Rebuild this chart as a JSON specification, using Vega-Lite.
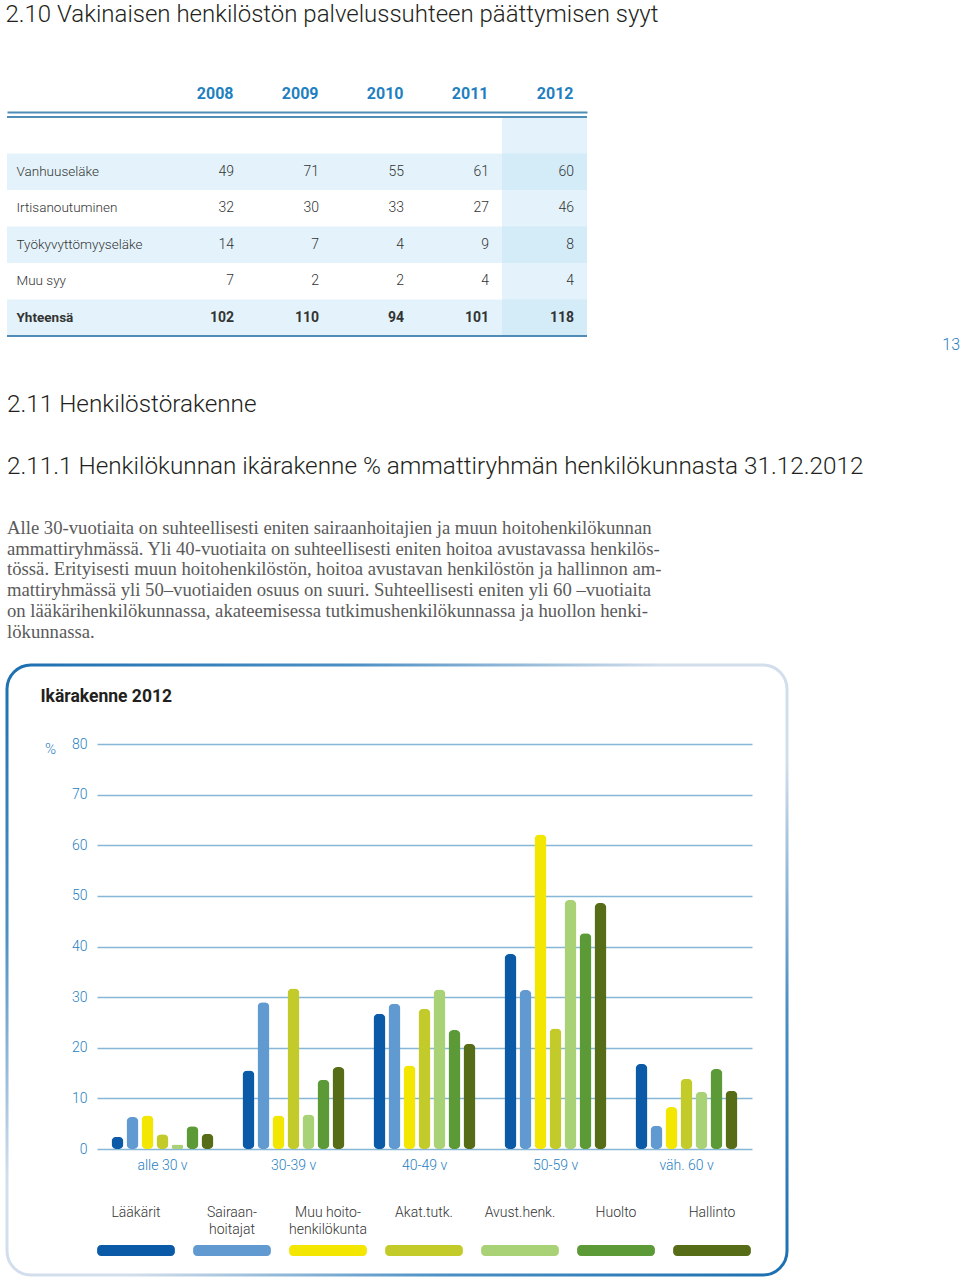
{
  "$schema": "https://vega.github.io/schema/vega-lite/v6.json",
  "background": "white",
  "padding": {"left": 5, "right": 0, "top": 3, "bottom": 0},
  "title": {
    "text": "2.10 Vakinaisen henkilöstön palvelussuhteen päättymisen syyt",
    "anchor": "start",
    "font": "Roboto",
    "fontSize": 24,
    "fontWeight": 300,
    "color": "#231f20",
    "offset": 58
  },
  "datasets": {
    "table": [
      {"reason": "Vanhuuseläke", "year": "2008", "value": 49},
      {"reason": "Vanhuuseläke", "year": "2009", "value": 71},
      {"reason": "Vanhuuseläke", "year": "2010", "value": 55},
      {"reason": "Vanhuuseläke", "year": "2011", "value": 61},
      {"reason": "Vanhuuseläke", "year": "2012", "value": 60},
      {"reason": "Irtisanoutuminen", "year": "2008", "value": 32},
      {"reason": "Irtisanoutuminen", "year": "2009", "value": 30},
      {"reason": "Irtisanoutuminen", "year": "2010", "value": 33},
      {"reason": "Irtisanoutuminen", "year": "2011", "value": 27},
      {"reason": "Irtisanoutuminen", "year": "2012", "value": 46},
      {"reason": "Työkyvyttömyyseläke", "year": "2008", "value": 14},
      {"reason": "Työkyvyttömyyseläke", "year": "2009", "value": 7},
      {"reason": "Työkyvyttömyyseläke", "year": "2010", "value": 4},
      {"reason": "Työkyvyttömyyseläke", "year": "2011", "value": 9},
      {"reason": "Työkyvyttömyyseläke", "year": "2012", "value": 8},
      {"reason": "Muu syy", "year": "2008", "value": 7},
      {"reason": "Muu syy", "year": "2009", "value": 2},
      {"reason": "Muu syy", "year": "2010", "value": 2},
      {"reason": "Muu syy", "year": "2011", "value": 4},
      {"reason": "Muu syy", "year": "2012", "value": 4},
      {"reason": "Yhteensä", "year": "2008", "value": 102},
      {"reason": "Yhteensä", "year": "2009", "value": 110},
      {"reason": "Yhteensä", "year": "2010", "value": 94},
      {"reason": "Yhteensä", "year": "2011", "value": 101},
      {"reason": "Yhteensä", "year": "2012", "value": 118}
    ],
    "age": [
      {"age": "alle 30 v", "group": "Lääkärit", "value": 2.4},
      {"age": "alle 30 v", "group": "Sairaanhoitajat", "value": 6.3},
      {"age": "alle 30 v", "group": "Muu hoitohenkilökunta", "value": 6.6},
      {"age": "alle 30 v", "group": "Akat.tutk.", "value": 2.9},
      {"age": "alle 30 v", "group": "Avust.henk.", "value": 0.9},
      {"age": "alle 30 v", "group": "Huolto", "value": 4.5},
      {"age": "alle 30 v", "group": "Hallinto", "value": 3.0},
      {"age": "30-39 v", "group": "Lääkärit", "value": 15.5},
      {"age": "30-39 v", "group": "Sairaanhoitajat", "value": 29.0},
      {"age": "30-39 v", "group": "Muu hoitohenkilökunta", "value": 6.6},
      {"age": "30-39 v", "group": "Akat.tutk.", "value": 31.7},
      {"age": "30-39 v", "group": "Avust.henk.", "value": 6.8},
      {"age": "30-39 v", "group": "Huolto", "value": 13.7},
      {"age": "30-39 v", "group": "Hallinto", "value": 16.2},
      {"age": "40-49 v", "group": "Lääkärit", "value": 26.7},
      {"age": "40-49 v", "group": "Sairaanhoitajat", "value": 28.7},
      {"age": "40-49 v", "group": "Muu hoitohenkilökunta", "value": 16.5},
      {"age": "40-49 v", "group": "Akat.tutk.", "value": 27.7},
      {"age": "40-49 v", "group": "Avust.henk.", "value": 31.5},
      {"age": "40-49 v", "group": "Huolto", "value": 23.5},
      {"age": "40-49 v", "group": "Hallinto", "value": 20.8},
      {"age": "50-59 v", "group": "Lääkärit", "value": 38.5},
      {"age": "50-59 v", "group": "Sairaanhoitajat", "value": 31.4},
      {"age": "50-59 v", "group": "Muu hoitohenkilökunta", "value": 62.1},
      {"age": "50-59 v", "group": "Akat.tutk.", "value": 23.8},
      {"age": "50-59 v", "group": "Avust.henk.", "value": 49.2},
      {"age": "50-59 v", "group": "Huolto", "value": 42.6},
      {"age": "50-59 v", "group": "Hallinto", "value": 48.6},
      {"age": "väh. 60 v", "group": "Lääkärit", "value": 16.8},
      {"age": "väh. 60 v", "group": "Sairaanhoitajat", "value": 4.6},
      {"age": "väh. 60 v", "group": "Muu hoitohenkilökunta", "value": 8.3},
      {"age": "väh. 60 v", "group": "Akat.tutk.", "value": 13.9},
      {"age": "väh. 60 v", "group": "Avust.henk.", "value": 11.3},
      {"age": "väh. 60 v", "group": "Huolto", "value": 15.8},
      {"age": "väh. 60 v", "group": "Hallinto", "value": 11.5}
    ]
  },
  "spacing": 39,
  "vconcat": [
    {
      "width": 580,
      "height": 219,
      "title": {
        "text": "13",
        "orient": "bottom",
        "anchor": "end",
        "dx": 372,
        "offset": 0,
        "fontSize": 16,
        "fontWeight": 300,
        "color": "#2a7fc0",
        "font": "Roboto"
      },
      "data": {"name": "table"},
      "layer": [
        {
          "transform": [{"filter": "datum.year == '2008'"}],
          "mark": {"type": "rect"},
          "encoding": {
            "y": {"field": "reason", "type": "nominal", "scale": {"domain": ["_gap", "Vanhuuseläke", "Irtisanoutuminen", "Työkyvyttömyyseläke", "Muu syy", "Yhteensä"], "paddingInner": 0, "paddingOuter": 0}},
            "fill": {"field": "reason", "type": "nominal", "scale": {"domain": ["Vanhuuseläke", "Irtisanoutuminen", "Työkyvyttömyyseläke", "Muu syy", "Yhteensä"], "range": ["#e4f3fb", "#ffffff", "#e4f3fb", "#ffffff", "#e4f3fb"]}, "legend": null}
          }
        },
        {
          "transform": [{"filter": "datum.year == '2012' && datum.reason == 'Yhteensä'"}],
          "mark": {"type": "rect", "fill": "#bae0f5", "opacity": 0.39},
          "encoding": {
            "x": {"field": "year", "type": "ordinal", "scale": {"domain": ["2008", "2009", "2010", "2011", "2012"], "paddingInner": 0, "paddingOuter": 0.9118, "align": 1}}
          }
        },
        {
          "transform": [{"filter": "datum.year == '2008' && datum.reason == 'Yhteensä'"}],
          "mark": {"type": "rule", "color": "#4f8db6", "strokeWidth": 2},
          "encoding": {
            "y": {"datum": "_gap", "type": "nominal", "bandPosition": 0}
          }
        },
        {
          "transform": [{"filter": "datum.year == '2008' && datum.reason == 'Yhteensä'"}],
          "mark": {"type": "rule", "color": "#4f8db6", "strokeWidth": 2},
          "encoding": {
            "y": {"datum": "Yhteensä", "type": "nominal", "bandPosition": 1}
          }
        },
        {
          "transform": [{"filter": "datum.reason != 'Yhteensä'"}],
          "mark": {"type": "text", "align": "right", "dx": -13, "fontSize": 14, "color": "#333333", "font": "Roboto", "fontWeight": 300},
          "encoding": {
            "x": {
              "field": "year", "type": "ordinal", "bandPosition": 1,
              "scale": {"domain": ["2008", "2009", "2010", "2011", "2012"], "paddingInner": 0, "paddingOuter": 0.9118, "align": 1},
              "axis": {
                "orient": "top", "offset": 5, "title": null, "domain": true, "domainColor": "#4f8db6", "domainWidth": 2,
                "ticks": false, "labelAlign": "right", "labelOffset": 29, "labelPadding": 19,
                "labelFontSize": 16, "labelFontWeight": "bold", "labelColor": "#1f7fc0", "labelAngle": 0,
                "labelFont": "Roboto", "zindex": 1
              }
            },
            "y": {
              "field": "reason", "type": "nominal",
              "scale": {"domain": ["_gap", "Vanhuuseläke", "Irtisanoutuminen", "Työkyvyttömyyseläke", "Muu syy", "Yhteensä"], "paddingInner": 0, "paddingOuter": 0},
              "axis": {
                "orient": "left", "title": null, "domain": false, "ticks": false, "grid": false,
                "labelAlign": "left", "labelPadding": -9, "labelFontSize": 13.5, "labelColor": "#333333", "labelLimit": 300,
                "labelFont": "Roboto", "zindex": 1,
                "labelExpr": "datum.value == '_gap' ? '' : datum.label",
                "labelFontWeight": {"condition": {"test": "datum.value == 'Yhteensä'", "value": "bold"}, "value": 300}
              }
            },
            "text": {"field": "value", "type": "quantitative"}
          }
        },
        {
          "transform": [{"filter": "datum.reason == 'Yhteensä'"}],
          "mark": {"type": "text", "align": "right", "dx": -13, "fontSize": 14, "fontWeight": "bold", "color": "#333333", "font": "Roboto"},
          "encoding": {
            "x": {"field": "year", "type": "ordinal", "bandPosition": 1},
            "y": {"field": "reason", "type": "nominal"},
            "text": {"field": "value", "type": "quantitative"}
          }
        }
      ]
    },
    {
      "width": 780,
      "height": 610,
      "title": {
        "text": ["2.11 Henkilöstörakenne", "2.11.1 Henkilökunnan ikärakenne  %  ammattiryhmän henkilökunnasta 31.12.2012"],
        "subtitle": [
          "Alle 30-vuotiaita on suhteellisesti eniten sairaanhoitajien ja muun hoitohenkilökunnan",
          "ammattiryhmässä. Yli 40-vuotiaita on suhteellisesti eniten hoitoa avustavassa henkilös-",
          "tössä. Erityisesti muun hoitohenkilöstön, hoitoa avustavan henkilöstön  ja hallinnon am-",
          "mattiryhmässä yli 50–vuotiaiden osuus on suuri. Suhteellisesti eniten yli 60 –vuotiaita",
          "on lääkärihenkilökunnassa, akateemisessa tutkimushenkilökunnassa  ja huollon henki-",
          "lökunnassa."
        ],
        "anchor": "start",
        "frame": "group",
        "font": "Roboto",
        "fontSize": 24.3,
        "fontWeight": 300,
        "color": "#231f20",
        "lineHeight": 62,
        "subtitleFont": "Liberation Serif",
        "subtitleFontSize": 18.7,
        "subtitleColor": "#5a5a5a",
        "subtitleLineHeight": 20.8,
        "subtitlePadding": 40,
        "offset": 22
      },
      "resolve": {
        "scale": {"x": "independent", "y": "independent"},
        "axis": {"x": "independent", "y": "independent"}
      },
      "layer": [
        {
          "data": {"name": "age"},
          "mark": {"type": "bar", "cornerRadius": 5},
          "encoding": {
            "x": {
              "field": "age", "type": "nominal", "sort": ["alle 30 v", "30-39 v", "40-49 v", "50-59 v", "väh. 60 v"],
              "scale": {"domain": ["alle 30 v", "30-39 v", "40-49 v", "50-59 v", "väh. 60 v"], "range": [90, 745], "paddingInner": 0, "paddingOuter": 0},
              "axis": {
                "orient": "bottom", "offset": -126, "domain": false, "ticks": false, "grid": false,
                "labelPadding": 9, "labelColor": "#2a80c2", "labelFontSize": 14, "labelAngle": 0, "labelFont": "Roboto", "labelFontWeight": 300,
                "title": "Ikärakenne 2012", "titleX": 33, "titleY": -453, "titleAlign": "left", "titleBaseline": "middle",
                "titleFontSize": 17.5, "titleFontWeight": "bold", "titleColor": "#231f20", "titleFont": "Roboto"
              }
            },
            "xOffset": {
              "field": "group", "type": "nominal",
              "scale": {"domain": ["Lääkärit", "Sairaanhoitajat", "Muu hoitohenkilökunta", "Akat.tutk.", "Avust.henk.", "Huolto", "Hallinto"], "paddingInner": 0.2, "paddingOuter": 0.967}
            },
            "y": {
              "field": "value", "type": "quantitative",
              "scale": {"domain": [0, 80], "range": [484, 79], "nice": false},
              "axis": {
                "orient": "left", "offset": -85, "values": [0, 10, 20, 30, 40, 50, 60, 70, 80],
                "domain": false, "ticks": false, "labelPadding": 5, "labelColor": "#2a80c2", "labelFontSize": 14, "labelFont": "Roboto", "labelFontWeight": 300,
                "grid": true, "gridColor": "#86b7d6", "gridWidth": 1.3,
                "title": "%", "titleAngle": 0, "titleX": -42, "titleY": 83, "titleAlign": "center", "titleBaseline": "middle",
                "titleFontSize": 15, "titleFontWeight": 300, "titleColor": "#2a80c2", "titleFont": "Roboto"
              }
            },
            "color": {
              "field": "group", "type": "nominal",
              "scale": {
                "domain": ["Lääkärit", "Sairaanhoitajat", "Muu hoitohenkilökunta", "Akat.tutk.", "Avust.henk.", "Huolto", "Hallinto"],
                "range": ["#0b5aa7", "#6199d1", "#f3e600", "#c3cb2a", "#a9d175", "#5b9a36", "#576c17"]
              },
              "legend": null
            }
          }
        },
        {
          "data": {"name": "age"},
          "transform": [{"filter": "datum.age == 'alle 30 v'"}],
          "mark": {"type": "rect", "cornerRadius": 4},
          "encoding": {
            "x": {
              "field": "group", "type": "nominal", "sort": ["Lääkärit", "Sairaanhoitajat", "Muu hoitohenkilökunta", "Akat.tutk.", "Avust.henk.", "Huolto", "Hallinto"],
              "scale": {"domain": ["Lääkärit", "Sairaanhoitajat", "Muu hoitohenkilökunta", "Akat.tutk.", "Avust.henk.", "Huolto", "Hallinto"], "range": [81, 753], "paddingInner": 0.19, "paddingOuter": 0.095},
              "axis": {
                "orient": "bottom", "offset": -70, "domain": false, "ticks": false, "grid": false, "title": null,
                "labelPadding": 0, "labelBaseline": "top", "labelColor": "#333333", "labelFontSize": 14, "labelAngle": 0,
                "labelLineHeight": 17, "labelOverlap": false, "labelFont": "Roboto", "labelFontWeight": 300,
                "labelExpr": "datum.value == 'Sairaanhoitajat' ? ['Sairaan-', 'hoitajat'] : datum.value == 'Muu hoitohenkilökunta' ? ['Muu hoito-', 'henkilökunta'] : datum.label"
              }
            },
            "y": {"datum": "swatch", "type": "nominal", "scale": {"domain": ["swatch"], "range": [580, 591], "paddingInner": 0, "paddingOuter": 0}, "axis": null},
            "color": {"field": "group", "type": "nominal", "legend": null}
          }
        },
        {
          "data": {"values": [{"frame": "box"}]},
          "mark": {
            "type": "rect",
            "fill": "transparent",
            "strokeWidth": 3,
            "cornerRadius": 24,
            "stroke": {
              "gradient": "linear", "x1": 0, "y1": 0, "x2": 1, "y2": 1,
              "stops": [
                {"offset": 0, "color": "#1c6fb0"},
                {"offset": 0.22, "color": "#4b8fc4"},
                {"offset": 0.42, "color": "#d2deeb"},
                {"offset": 0.58, "color": "#d2deeb"},
                {"offset": 0.78, "color": "#4b8fc4"},
                {"offset": 1, "color": "#1c6fb0"}
              ]
            }
          },
          "encoding": {}
        }
      ]
    }
  ],
  "config": {
    "view": {"stroke": null},
    "font": "Roboto"
  }
}
